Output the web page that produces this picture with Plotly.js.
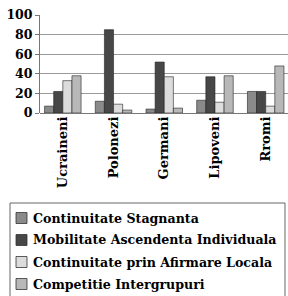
<!DOCTYPE html>
<html><head><meta charset="utf-8">
<script src="https://cdn.plot.ly/plotly-3.0.1.min.js"></script>
<style>html,body{margin:0;padding:0;background:#fff;}#c{width:288px;height:296px;}</style>
</head><body><div id="c"></div>
<script>
const categories = ["Ucraineni", "Polonezi", "Germani", "Lipoveni", "Rromi"];
const seriesNames = ["Continuitate Stagnanta", "Mobilitate Ascendenta Individuala", "Continuitate prin Afirmare Locala", "Competitie Intergrupuri"];
const stagnanta = [7, 12, 4, 13, 22];
const mobilitate = [22, 85, 52, 37, 22];
const afirmare = [33, 9, 37, 11, 7];
const competitie = [38, 3, 5, 38, 48];
const yTicks = [0, 20, 40, 60, 80, 100];

const values = [stagnanta, mobilitate, afirmare, competitie];
const colors = ["#8a8a8a", "#474747", "#dcdcdc", "#b8b8b8"];
const fam = "DejaVu Serif";
const W = 288, H = 296;

const data = values.map((v, i) => ({
  type: "bar", x: categories, y: v, name: seriesNames[i],
  marker: {color: colors[i], line: {color: "#222", width: 0.6}},
  showlegend: false
}));

// legend drawn as shapes + annotations inside a framed box
const shapes = [{
  type: "rect", xref: "paper", yref: "paper",
  x0: 10 / W, x1: 285 / W, y0: -0.02, y1: (H - 203) / H,
  line: {color: "#666", width: 1}, fillcolor: "rgba(0,0,0,0)"
}];
const annotations = [];
seriesNames.forEach((n, i) => {
  const cy = 218 + 22 * i;
  shapes.push({
    type: "rect", xref: "paper", yref: "paper",
    x0: 16 / W, x1: 27 / W, y0: (H - cy - 5.5) / H, y1: (H - cy + 5.5) / H,
    line: {color: "#333", width: 0.8}, fillcolor: colors[i]
  });
  annotations.push({
    xref: "paper", yref: "paper", x: 31 / W, y: (H - cy) / H,
    xanchor: "left", yanchor: "middle", showarrow: false,
    text: "<b>" + n + "</b>",
    font: {family: fam, size: 12.6, color: "#000"}
  });
});

const layout = {
  width: W, height: H,
  margin: {l: 0, r: 0, t: 0, b: 0},
  paper_bgcolor: "#fff", plot_bgcolor: "#fff",
  barmode: "group", bargap: 0.28, bargroupgap: 0,
  font: {family: fam, color: "#000", size: 14},
  showlegend: false,
  xaxis: {
    domain: [40 / W, 1], automargin: false,
    type: "category", range: [-0.45, 4.44], tickangle: -90,
    tickvals: categories, ticktext: categories.map(c => "<b>" + c + "</b>"),
    tickfont: {family: fam, size: 13, color: "#000"},
    showgrid: false, showline: false, ticks: "", zeroline: false
  },
  yaxis: {
    domain: [(H - 113) / H, (H - 15) / H], automargin: false,
    range: [0, 100], tickvals: yTicks, ticktext: yTicks.map(t => "<b>" + t + "</b>"),
    tickfont: {family: fam, size: 12.5, color: "#000"},
    showgrid: true, gridcolor: "#9a9a9a", gridwidth: 1,
    showline: true, linecolor: "#777", ticks: "outside", ticklen: 4, tickcolor: "#777",
    zeroline: true, zerolinecolor: "#777"
  },
  shapes: shapes,
  annotations: annotations
};
Plotly.newPlot("c", data, layout, {displayModeBar: false, staticPlot: true});
</script></body></html>
